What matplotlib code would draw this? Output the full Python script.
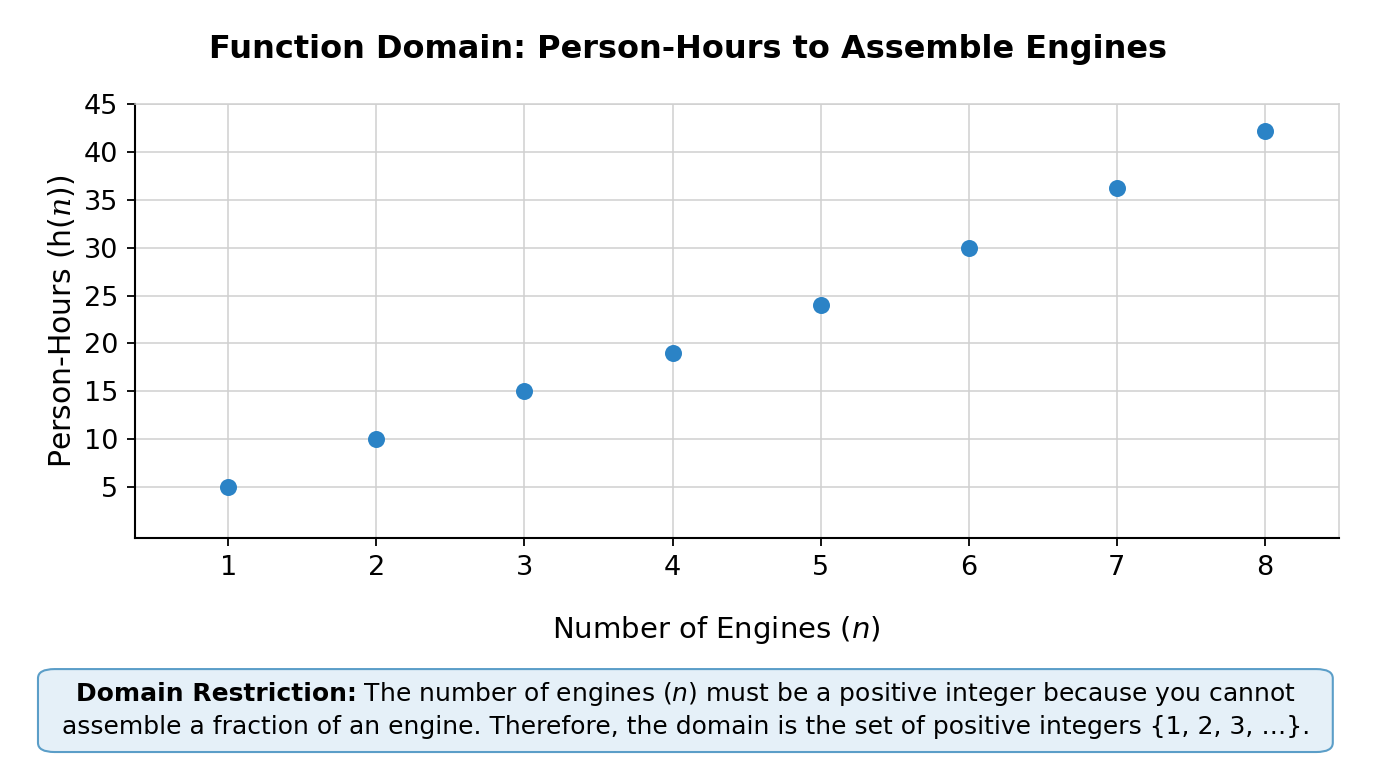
import matplotlib
matplotlib.use('Agg')

import matplotlib.pyplot as plt
from matplotlib.patches import FancyBboxPatch

# Data
engines = [1, 2, 3, 4, 5, 6, 7, 8]
person_hours = [5, 10, 15, 19, 24, 30, 36.2, 42.2]
y_ticks = [5, 10, 15, 20, 25, 30, 35, 40, 45]

title = 'Function Domain: Person-Hours to Assemble Engines'
x_label = r'Number of Engines ($\mathit{n}$)'
y_label = r'Person-Hours (h($\mathcal{n}$))'
note_bold = 'Domain Restriction:'
note_line1 = (r' The number of engines ($\mathit{n}$) '
              r'must be a positive integer because you cannot')
note_line2 = ('assemble a fraction of an engine. Therefore, the domain is the set '
              'of positive integers {1, 2, 3, …}.')

# Style
FONT = 'DejaVu Sans'
plt.rcParams['font.family'] = [FONT]
plt.rcParams['mathtext.fontset'] = 'custom'
plt.rcParams['mathtext.rm'] = FONT
plt.rcParams['mathtext.it'] = FONT + ':italic'
plt.rcParams['mathtext.bf'] = FONT + ':bold'
plt.rcParams['mathtext.cal'] = 'DejaVu Serif:italic'

DOT_COLOR = '#2b83c6'
GRID_COLOR = '#d0d0d0'
NOTE_SIZE = 18

fig = plt.figure(figsize=(13.76, 7.68), dpi=100)
ax = fig.add_axes([0.0981, 0.2995, 0.875, 0.5651])

ax.scatter(engines, person_hours, s=150, color=DOT_COLOR, zorder=3, linewidths=0)

ax.set_xlim(0.37, 8.5)
ax.set_ylim(-0.3, 45)
ax.set_xticks(engines)
ax.set_yticks(y_ticks)
ax.tick_params(axis='both', labelsize=19.5, length=6, width=1.3, direction='out', pad=6)

ax.grid(True, color=GRID_COLOR, linewidth=1.1)
ax.set_axisbelow(True)
for side in ['left', 'bottom']:
    ax.spines[side].set_color('black')
    ax.spines[side].set_linewidth(1.5)
for side in ['top', 'right']:
    ax.spines[side].set_color(GRID_COLOR)
    ax.spines[side].set_linewidth(1.1)

ax.set_xlabel(x_label, fontsize=21)
ax.xaxis.set_label_coords(0.483, -0.175)
ax.set_ylabel(y_label, fontsize=21.5, labelpad=5)

fig.text(0.5, 0.935, title, ha='center', va='center', fontsize=23, fontweight='bold')

# Note box
box = FancyBboxPatch((0.0276, 0.0208), 0.941, 0.108,
                     boxstyle='round,pad=0,rounding_size=0.012',
                     transform=fig.transFigure, facecolor='#e5f0f8',
                     edgecolor='#5b9ec8', linewidth=1.5)
fig.patches.append(box)

# first line: bold lead-in followed by regular text, centred as a whole
renderer = fig.canvas.get_renderer()
t_bold = fig.text(0, 0.096, note_bold, ha='left', va='center',
                  fontsize=NOTE_SIZE, fontweight='bold')
t_reg = fig.text(0, 0.096, note_line1, ha='left', va='center', fontsize=NOTE_SIZE)
w_bold = t_bold.get_window_extent(renderer).width / fig.bbox.width
w_reg = t_reg.get_window_extent(renderer).width / fig.bbox.width
x0 = 0.4985 - (w_bold + w_reg) / 2
t_bold.set_x(x0)
t_reg.set_x(x0 + w_bold)

fig.text(0.4985, 0.053, note_line2, ha='center', va='center', fontsize=NOTE_SIZE)

fig.savefig('out.png', dpi=100)
